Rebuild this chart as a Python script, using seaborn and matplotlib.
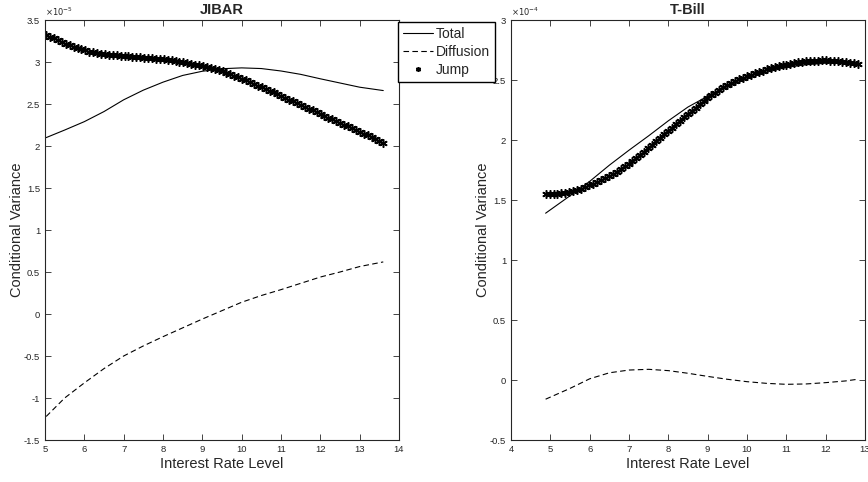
import numpy as np
import matplotlib
matplotlib.use("Agg")
import matplotlib.pyplot as plt
from matplotlib.ticker import FuncFormatter
import seaborn as sns

# JIBAR panel (values in units of 1e-5)
jibar_x = [5.03, 5.5, 6.0, 6.5, 7.0, 7.5, 8.0, 8.5, 9.0, 9.5, 10.0, 10.5,
           11.0, 11.5, 12.0, 12.5, 13.0, 13.6]
jibar_total = [2.10, 2.19, 2.29, 2.41, 2.55, 2.665, 2.76, 2.84, 2.89, 2.92, 2.93, 2.922,
               2.893, 2.853, 2.80, 2.75, 2.70, 2.66]
jibar_diffusion = [-1.22, -1.00, -0.82, -0.65, -0.50, -0.38, -0.27, -0.165, -0.06, 0.04, 0.14, 0.22,
                   0.29, 0.365, 0.44, 0.50, 0.565, 0.62]
jibar_jump_x = np.linspace(5.03, 13.6, 87)
jibar_jump = [3.325, 3.30, 3.28, 3.26, 3.24, 3.22, 3.20, 3.18, 3.165, 3.15,
              3.137, 3.125, 3.115, 3.107, 3.10, 3.094, 3.088, 3.083, 3.078, 3.074,
              3.07, 3.067, 3.063, 3.06, 3.056, 3.053, 3.049, 3.045, 3.041, 3.037,
              3.032, 3.026, 3.02, 3.013, 3.005, 2.997, 2.988, 2.979, 2.97, 2.96,
              2.95, 2.94, 2.928, 2.916, 2.904, 2.89, 2.873, 2.855, 2.837, 2.818,
              2.80, 2.78, 2.76, 2.74, 2.72, 2.70, 2.679, 2.658, 2.637, 2.616,
              2.595, 2.574, 2.553, 2.532, 2.511, 2.49, 2.468, 2.446, 2.424, 2.402,
              2.38, 2.359, 2.338, 2.317, 2.296, 2.275, 2.254, 2.233, 2.212, 2.191,
              2.17, 2.148, 2.126, 2.104, 2.083, 2.061, 2.04]

# T-Bill panel (values in units of 1e-4)
tbill_x = [4.88, 5.5, 6.0, 6.5, 7.0, 7.5, 8.0, 8.5, 9.0, 9.5, 10.0, 10.5,
           11.0, 11.5, 12.0, 12.5, 12.81]
tbill_total = [1.39, 1.535, 1.655, 1.790, 1.915, 2.035, 2.160, 2.275, 2.365, 2.445, 2.510, 2.565,
               2.605, 2.627, 2.640, 2.642, 2.640]
tbill_diffusion = [-0.16, -0.07, 0.01, 0.06, 0.083, 0.089, 0.078, 0.056, 0.03, 0.006, -0.014, -0.028,
                   -0.036, -0.033, -0.022, -0.008, 0.006]
tbill_jump_x = np.linspace(4.88, 12.81, 80)
tbill_jump = [1.550, 1.551, 1.552, 1.554, 1.557, 1.560, 1.564, 1.572, 1.582, 1.595,
              1.608, 1.622, 1.636, 1.651, 1.666, 1.682, 1.699, 1.717, 1.737, 1.758,
              1.780, 1.803, 1.827, 1.851, 1.877, 1.904, 1.932, 1.960, 1.989, 2.018,
              2.047, 2.076, 2.104, 2.132, 2.160, 2.188, 2.216, 2.243, 2.270, 2.297,
              2.323, 2.348, 2.372, 2.395, 2.417, 2.438, 2.457, 2.475, 2.491, 2.506,
              2.520, 2.533, 2.545, 2.556, 2.567, 2.578, 2.588, 2.597, 2.606, 2.614,
              2.621, 2.628, 2.635, 2.641, 2.647, 2.652, 2.656, 2.659, 2.661, 2.662,
              2.663, 2.663, 2.662, 2.660, 2.657, 2.654, 2.650, 2.645, 2.640, 2.634]

sns.set_style("ticks")
plt.rcParams["font.family"] = ["Liberation Sans", "DejaVu Sans"]
plt.rcParams["axes.unicode_minus"] = False

fig = plt.figure(figsize=(8.68, 4.82), dpi=100)
ax1 = fig.add_axes([45 / 868, 42 / 482, 354 / 868, 420 / 482])
ax2 = fig.add_axes([511 / 868, 42 / 482, 354 / 868, 420 / 482])


def draw(ax, x, total, diffusion, jx, jump, title, xlim, ylim, exp):
    sns.lineplot(x=x, y=total, ax=ax, color="black", lw=0.8, label="Total")
    sns.lineplot(x=x, y=diffusion, ax=ax, color="black", lw=0.8,
                 linestyle=(0, (5, 3)), label="Diffusion")
    sns.lineplot(x=jx, y=jump, ax=ax, color="black", linestyle="none",
                 marker=(6, 2, 0), markersize=6, markeredgecolor="black",
                 markeredgewidth=1.1, label="Jump")
    ax.set_xlim(*xlim)
    ax.set_ylim(*ylim)
    ax.set_xticks(np.arange(xlim[0], xlim[1] + 0.5, 1))
    ax.set_yticks(np.arange(ylim[0], ylim[1] + 0.25, 0.5))
    ax.yaxis.set_major_formatter(FuncFormatter(lambda v, p: f"{v:g}"))
    ax.tick_params(direction="in", top=True, right=True, length=4, width=0.6,
                   labelsize=6.8, colors="#262626")
    for s in ax.spines.values():
        s.set_visible(True)
        s.set_color("#262626")
        s.set_linewidth(0.8)
    ax.set_title(title, fontsize=10.5, fontweight="bold", pad=4)
    ax.set_xlabel("Interest Rate Level", fontsize=10.5, color="#262626", labelpad=2)
    ax.set_ylabel("Conditional Variance", fontsize=10.5, color="#262626", labelpad=0)
    ax.text(0.0, 1.005, r"$\times10^{" + exp + "}$", transform=ax.transAxes,
            fontsize=6, ha="left", va="bottom", color="#262626")
    ax.get_legend().remove()


draw(ax1, jibar_x, jibar_total, jibar_diffusion, jibar_jump_x, jibar_jump,
     "JIBAR", (5, 14), (-1.5, 3.5), "-5")
draw(ax2, tbill_x, tbill_total, tbill_diffusion, tbill_jump_x, tbill_jump,
     "T-Bill", (4, 13), (-0.5, 3.0), "-4")

handles, labels = ax1.get_legend_handles_labels()
fig.legend(handles, labels, loc="upper left", bbox_to_anchor=(398 / 868, 1 - 22 / 482),
           frameon=True, fancybox=False, edgecolor="black", framealpha=1,
           fontsize=10, handlelength=2.2, handletextpad=0.2, borderpad=0.35,
           labelspacing=0.3, borderaxespad=0, markerscale=0.6)

fig.savefig("out.png", dpi=100)
